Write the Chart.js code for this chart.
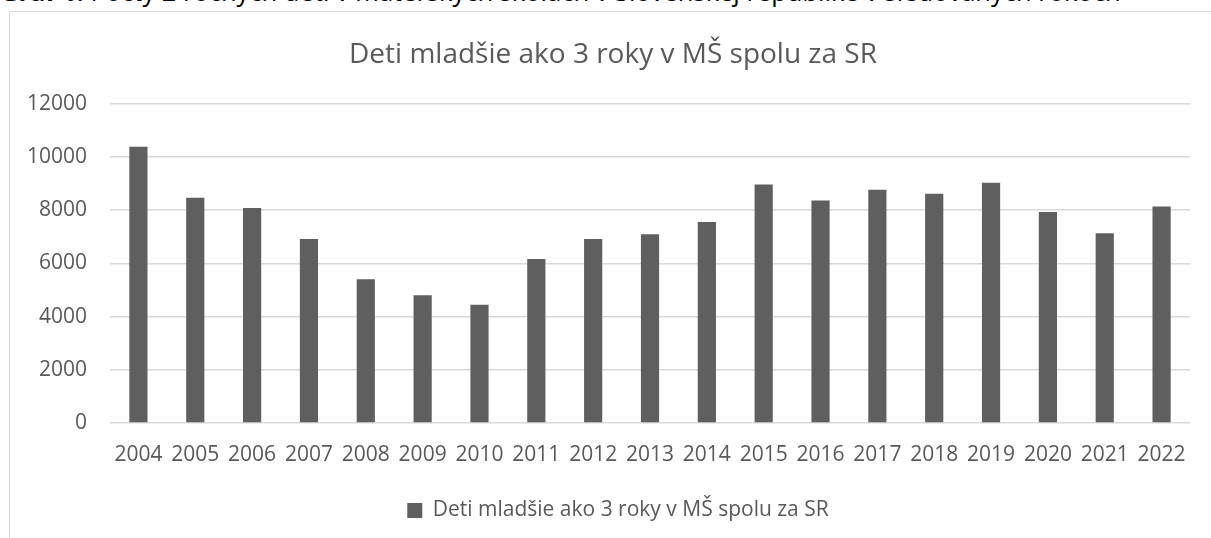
<!DOCTYPE html>
<html>
<head>
<meta charset="utf-8">
<script src="https://cdn.jsdelivr.net/npm/chart.js"></script>
<style>
  html, body { margin: 0; padding: 0; background: #fff; overflow: hidden; }
  body { width: 1211px; height: 538px; position: relative; }
  #caption {
    position: absolute; left: 0; top: -21px; white-space: nowrap;
    font-family: "Open Sans", sans-serif; font-size: 25.5px; line-height: 25.5px; color: #000;
  }
  #frame {
    position: absolute; left: 9px; top: 11px; width: 1215px; height: 540px;
    border: 1px solid #d9d9d9; box-sizing: border-box;
  }
  #wrap { position: absolute; left: 0; top: 0; width: 1211px; height: 538px; }
</style>
</head>
<body>
<div id="caption"><b>Graf 1:</b> Počty 2 ročných detí v materských školách v Slovenskej republike v sledovaných rokoch</div>
<div id="frame"></div>
<div id="wrap"><canvas id="chart" width="1211" height="538"></canvas></div>
<script>
// values
const years = ['2004','2005','2006','2007','2008','2009','2010','2011','2012','2013',
  '2014','2015','2016','2017','2018','2019','2020','2021','2022'];
const children = [10375, 8465, 8075, 6910, 5400, 4800, 4440, 6160, 6910, 7090,
  7550, 8960, 8360, 8760, 8610, 9025, 7925, 7125, 8135];
const seriesName = 'Deti mladšie ako 3 roky v MŠ spolu za SR';
const chartTitle = 'Deti mladšie ako 3 roky v MŠ spolu za SR';

const textColor = '#595959';
const font = 'Open Sans';

// excel centres title + legend on the whole chart frame, nudge them right a bit
const nudgeBoxes = {
  id: 'nudgeBoxes',
  afterLayout(chart) {
    if (chart.titleBlock) { chart.titleBlock.left += 26; chart.titleBlock.right += 0; }
    if (chart.legend) { chart.legend.left += 36; }
  }
};

new Chart(document.getElementById('chart').getContext('2d'), {
  type: 'bar',
  data: {
    labels: years,
    datasets: [{ label: seriesName, data: children, backgroundColor: '#5f5f5f',
      categoryPercentage: 1, barPercentage: 0.32 }]
  },
  options: {
    responsive: false,
    animation: false,
    layout: { padding: { left: 10, right: 21, top: 22, bottom: 7 } },
    plugins: {
      title: { display: true, text: chartTitle, color: textColor,
        font: { family: font, size: 28, weight: 'normal' }, padding: { top: 16, bottom: 32 } },
      legend: { position: 'bottom',
        labels: { color: textColor, font: { family: font, size: 21 }, boxWidth: 15, boxHeight: 15, padding: 10 } },
      tooltip: { enabled: false }
    },
    scales: {
      x: {
        grid: { display: false },
        border: { display: false },
        ticks: { color: textColor, font: { family: font, size: 21 }, padding: 11, maxRotation: 0, autoSkip: false },
        afterFit: s => { s.height = 67; }
      },
      y: {
        min: 0, max: 12000,
        grid: { color: '#d9d9d9', lineWidth: 1.5, drawTicks: false },
        border: { display: false },
        ticks: { stepSize: 2000, color: textColor, font: { family: font, size: 21 }, padding: 23,
          callback: v => String(v) },
        afterFit: s => { s.width = 100; }
      }
    }
  },
  plugins: [nudgeBoxes]
});
</script>
</body>
</html>
